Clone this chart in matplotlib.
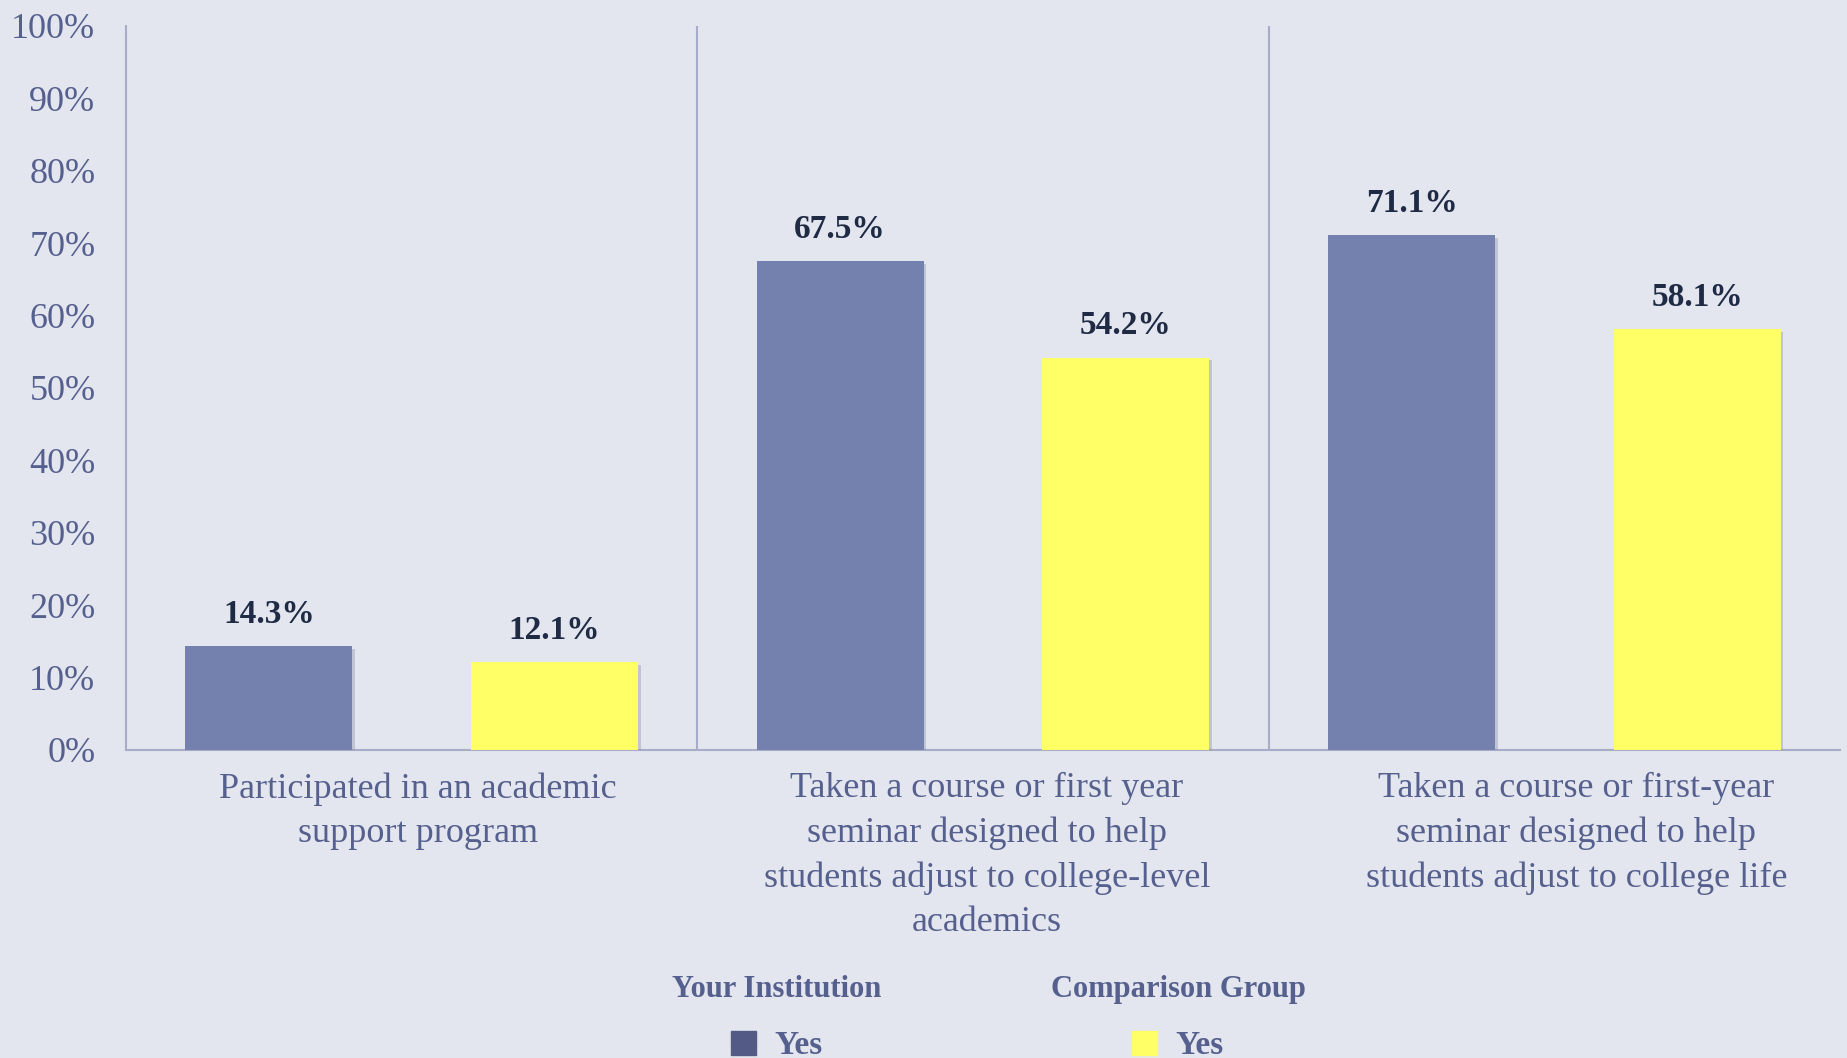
import matplotlib
matplotlib.use("Agg")
import matplotlib.pyplot as plt
import matplotlib.transforms as mtransforms
import numpy as np
from matplotlib.patches import Patch
import matplotlib.patheffects as pe

categories = [
    "Participated in an academic\nsupport program",
    "Taken a course or first year\nseminar designed to help\nstudents adjust to college-level\nacademics",
    "Taken a course or first-year\nseminar designed to help\nstudents adjust to college life",
]
your_institution = [14.3, 67.5, 71.1]
comparison_group = [12.1, 54.2, 58.1]
yticks = list(range(0, 101, 10))
ytick_labels = [f"{t}%" for t in yticks]

BG = "#E3E6EE"
DARK = "#7480AD"
DARK_LEG = "#525A85"
YELLOW = "#FFFF66"
TICK_C = "#56608E"
VAL_C = "#1F2B45"
LINE_C = "#A7ACC9"
FONT = ["Liberation Serif", "DejaVu Serif"]

plt.rcParams['font.family'] = FONT

fig = plt.figure(figsize=(18.47, 10.58), dpi=100, facecolor=BG)
ax = fig.add_axes([126/1847, 1-750/1058, (1840-126)/1847, (750-26)/1058])
ax.set_facecolor(BG)

x = np.arange(len(categories))
w = 0.292
off = 0.25
shadow = [pe.SimplePatchShadow(offset=(2, -2), shadow_rgbFace="#8088A8", alpha=0.35), pe.Normal()]
b1 = ax.bar(x - off, your_institution, w, color=DARK, zorder=3, path_effects=shadow)
b2 = ax.bar(x + off, comparison_group, w, color=YELLOW, zorder=3, path_effects=shadow)

for bars, vals in ((b1, your_institution), (b2, comparison_group)):
    for r, v in zip(bars, vals):
        ax.annotate(f"{v:.1f}%", (r.get_x() + r.get_width()/2, v),
                    xytext=(0, 12), textcoords="offset points",
                    ha="center", va="bottom", fontsize=24, fontweight="bold",
                    color=VAL_C)

ax.set_xlim(-0.5, 2.5)
ax.set_ylim(0, 100)
ax.set_yticks(yticks)
ax.set_yticklabels(ytick_labels)
ax.set_xticks(x)
ax.set_xticklabels(categories, linespacing=1.44)
ax.tick_params(axis="y", length=0, pad=22, labelsize=26, labelcolor=TICK_C)
ax.tick_params(axis="x", length=0, pad=16, labelsize=26, labelcolor=TICK_C)
for lbl, dx in zip(ax.get_xticklabels(), (6, 4, 22)):
    lbl.set_verticalalignment("top")
    lbl.set_transform(lbl.get_transform() +
                      mtransforms.ScaledTranslation(dx/100, 0, fig.dpi_scale_trans))

for s in ("top", "right"):
    ax.spines[s].set_visible(False)
for s in ("left", "bottom"):
    ax.spines[s].set_color(LINE_C)
    ax.spines[s].set_linewidth(1.5)
for xv in (0.5, 1.5):
    ax.axvline(xv, color=LINE_C, lw=1.5, zorder=1)

common = dict(frameon=False, fontsize=24, loc="upper center", borderpad=0,
              handlelength=0.75, handleheight=0.75, handletextpad=0.55,
              labelspacing=0.8, labelcolor=TICK_C,
              title_fontproperties={"family": FONT, "weight": "bold", "size": 22})
leg1 = fig.legend(handles=[Patch(color=DARK_LEG, label="Yes")], title="Your Institution",
                  bbox_to_anchor=(777/1847, 1-958/1058), **common)
leg2 = fig.legend(handles=[Patch(color=YELLOW, label="Yes")], title="Comparison Group",
                  bbox_to_anchor=(1178/1847, 1-958/1058), **common)
for leg in (leg1, leg2):
    leg.get_title().set_color(TICK_C)
    for t in leg.get_texts():
        t.set_fontweight("bold")

fig.savefig("out.png", dpi=100, facecolor=BG)
